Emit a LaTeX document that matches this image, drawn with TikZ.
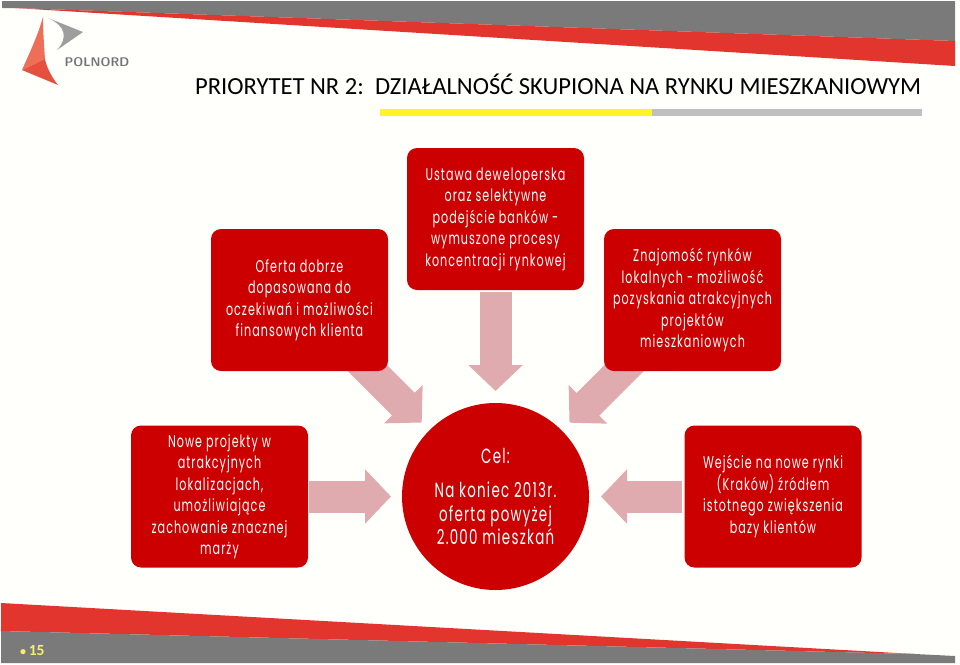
\documentclass[tikz,border=0pt]{standalone}
\usepackage{fontspec}
\setmainfont{Carlito}
\newfontfamily\boxfont[FakeStretch=0.655,LetterSpace=6]{Poppins}
\usetikzlibrary{arrows.meta}
\usetikzlibrary{backgrounds}
\definecolor{boxred}{HTML}{CC0000}
\definecolor{bandred}{HTML}{E2352D}
\definecolor{bandgray}{HTML}{7A7A7A}
\definecolor{arrowpink}{HTML}{E0ABAF}
\definecolor{pagewhite}{HTML}{FFFFFC}
\definecolor{numyellow}{HTML}{F4F06A}
\definecolor{logolight}{HTML}{EE6F58}
\definecolor{logodark}{HTML}{E5503F}
\tikzset{
 redbox/.style={fill=boxred, text=white, rounded corners=10, inner sep=0, align=center,
  minimum width=177, minimum height=142, font=\boxfont\fontsize{17}{21.5}\selectfont},
 goal/.style={circle, fill=boxred, text=white, inner sep=0, align=center,
  minimum size=187, font=\boxfont\fontsize{20.5}{23.5}\selectfont},
 blockarrow/.style={draw=arrowpink, line width=32, -{Triangle[width=53,length=26,fill=arrowpink]}}
}
\begin{document}
\begin{tikzpicture}[x=1pt,y=-1pt]
\useasboundingbox (0,0) rectangle (960,664);
\node[redbox] (ustawa) at (495.5,219) {Ustawa deweloperska\\oraz selektywne\\podejście banków -\\wymuszone procesy\\koncentracji rynkowej};
\node[redbox] (oferta) at (299.5,300) {Oferta dobrze\\dopasowana do\\oczekiwań i możliwości\\finansowych klienta};
\node[redbox] (znajomosc) at (692.5,300) {Znajomość rynków\\lokalnych  - możliwość\\pozyskania atrakcyjnych\\projektów\\mieszkaniowych};
\node[redbox] (nowe) at (219.5,496.5) {Nowe projekty w\\atrakcyjnych\\lokalizacjach,\\umożliwiające\\zachowanie znacznej\\marży};
\node[redbox] (wejscie) at (773,496.5) {Wejście na nowe rynki\\(Kraków)  źródłem\\istotnego zwiększenia\\bazy klientów};
\node[goal] (cel) at (495.5,496.5) {Cel:\\[11]Na koniec 2013r.\\oferta powyżej\\2.000 mieszkań};
\begin{scope}[on background layer]
\fill[pagewhite] (0,0) rectangle (960,664);
\fill[bandgray] (2,1) -- (955,1) -- (955,41) -- (15,8) -- (2,8) -- cycle;
\fill[bandred] (15,8) -- (955,41) -- (955,66) -- cycle;
\fill[bandred] (1,603) -- (915,654) -- (1,631) -- cycle;
\fill[bandgray] (1,631) -- (915,654) -- (955,656) -- (955,663) -- (1,663) -- cycle;
\fill[yellow!85!white] (380,109) rectangle (652,116);
\fill[black!25] (652,109) rectangle (922,116);
\draw[blockarrow, shorten >=104.5] (oferta.center) -- (cel.center);
\draw[blockarrow, shorten >=104.5] (znajomosc.center) -- (cel.center);
\draw[blockarrow, shorten <=73, shorten >=105.5] (ustawa.center) -- (cel.center);
\draw[blockarrow, shorten <=89.5, shorten >=104.5] (nowe.center) -- (cel.center);
\draw[blockarrow, shorten <=91, shorten >=105.5] (wejscie.center) -- (cel.center);
\end{scope}
\node[anchor=base west, inner sep=0, font=\fontsize{24.57}{28}\selectfont] (title) at (195,94) {PRIORYTET NR 2:\ \ DZIAŁALNOŚĆ SKUPIONA NA RYNKU MIESZKANIOWYM};
\node[anchor=base west, inner sep=0, text=numyellow, font=\bfseries\fontsize{15.5}{16}\selectfont] (number) at (20,655) {{\fontsize{12}{12}\selectfont\textbullet}\,15};
\node[anchor=base west, inner sep=0, text=black!55, font=\sffamily\bfseries\fontsize{12.5}{15}\selectfont] (polnord) at (64.5,66) {POLNORD};
% logo
\fill[logolight] (43,17) .. controls (38,35) and (30,52) .. (22,70) -- (45,59) .. controls (44,45) and (43,30) .. (43,17) -- cycle;
\fill[logodark] (22,70) -- (58,85) .. controls (50,75) and (46,65) .. (45,59) -- cycle;
\fill[black!38] (48,18) -- (83,32) -- (57,50) .. controls (68,38) and (66,26) .. (48,18) -- cycle;
\end{tikzpicture}
\end{document}
